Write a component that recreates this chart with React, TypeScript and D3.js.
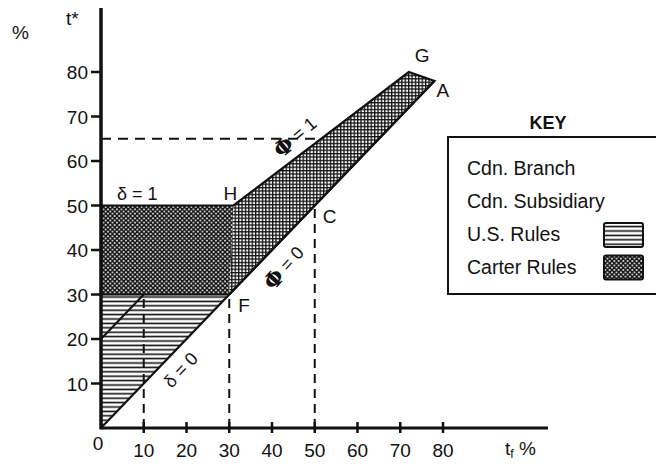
import * as d3 from "d3";

const WIDTH = 656;
const HEIGHT = 464;

// axis ticks (percent)
const X_TICKS = [10, 20, 30, 40, 50, 60, 70, 80];
const Y_TICKS = [10, 20, 30, 40, 50, 60, 70, 80];

// regions, as [t_f, t*] vertices
const US_RULES: [number, number][] = [[0, 0], [30, 30], [0, 30]];
const CARTER_LEFT: [number, number][] = [[0, 30], [0, 50], [31, 50], [30, 30]];
const CARTER_RIGHT: [number, number][] = [[30, 30], [31, 50], [72, 80], [78, 78]];
const CARTER_OUTLINE: [number, number][] = [[0, 30], [0, 50], [31, 50], [72, 80], [78, 78], [30, 30]];
const DIAGONAL: [number, number][] = [[0, 0], [78, 78]];
const SUBSIDIARY_LINE: [number, number][] = [[0, 20], [10, 30]];

// dashed guides
const DASHED_VERTICALS = [
  { x: 10, top: 30 },
  { x: 30, top: 30 },
  { x: 50, top: 50 },
];
const DASHED_LEVEL = { y: 65, from: 0, to: 51.5 };

const POINT_LABELS = [
  { label: "H", x: 31, y: 50, dx: -10, dy: -6 },
  { label: "G", x: 72, y: 80, dx: 6, dy: -10 },
  { label: "A", x: 78, y: 78, dx: 2, dy: 16 },
  { label: "F", x: 30, y: 30, dx: 9, dy: 17 },
  { label: "C", x: 50, y: 50, dx: 8, dy: 17 },
];

// rotated line labels, positioned by their centre in data units
const LINE_LABELS = [
  { sym: "δ", rest: " = 0", x: 18.7, y: 13.0, angle: -47, bold: false },
  { sym: "Φ", rest: " = 0", x: 42.8, y: 36.0, angle: -48, bold: true },
  { sym: "Φ", rest: " = 1", x: 45.4, y: 65.4, angle: -40, bold: true },
];

const LEGEND_ITEMS = ["Cdn. Branch", "Cdn. Subsidiary", "U.S. Rules", "Carter Rules"];
const LEGEND_SWATCH = [null, null, "url(#hlines)", "url(#xhatch)"];

const FONT = "'Liberation Sans', Arial, Helvetica, sans-serif";

export default function App() {
  const x = d3.scaleLinear().domain([0, 80]).range([101, 443]);
  const y = d3.scaleLinear().domain([0, 80]).range([428, 72]);
  const line = d3
    .line<[number, number]>()
    .x((d) => x(d[0]))
    .y((d) => y(d[1]));
  const poly = (pts: [number, number][]) => line(pts) + "Z";

  return (
    <svg
      width={WIDTH}
      height={HEIGHT}
      viewBox={`0 0 ${WIDTH} ${HEIGHT}`}
      style={{ position: "absolute", left: 0, top: 0, background: "#fff", fontFamily: FONT }}
    >
      <defs>
        <pattern id="hlines" width="6" height="4.4" patternUnits="userSpaceOnUse">
          <line x1="0" x2="6" y1="2.2" y2="2.2" stroke="#111" strokeWidth="1.6" />
        </pattern>
        <pattern id="xhatch" width="4.5" height="4.5" patternUnits="userSpaceOnUse">
          <rect width="4.5" height="4.5" fill="#fff" />
          <path d="M0,0 L4.5,4.5 M4.5,0 L0,4.5" stroke="#111" strokeWidth="1.5" />
        </pattern>
        <pattern id="grid" width="3.4" height="3.4" patternUnits="userSpaceOnUse">
          <rect width="3.4" height="3.4" fill="#fff" />
          <path d="M0,0.6 L3.4,0.6 M0.6,0 L0.6,3.4" stroke="#111" strokeWidth="1.4" />
        </pattern>
      </defs>

      {/* shaded regions */}
      <path d={poly(US_RULES)} fill="url(#hlines)" />
      <path d={poly(CARTER_LEFT)} fill="url(#xhatch)" />
      <path d={poly(CARTER_RIGHT)} fill="url(#grid)" />
      <path d={poly(CARTER_OUTLINE)} fill="none" stroke="#111" strokeWidth={2.2} strokeLinejoin="miter" />
      <path d={line(DIAGONAL) || ""} fill="none" stroke="#111" strokeWidth={2.2} />
      <path d={line(SUBSIDIARY_LINE) || ""} fill="none" stroke="#111" strokeWidth={2} />

      {/* dashed guides */}
      {DASHED_VERTICALS.map((d) => (
        <line
          key={`dv-${d.x}`}
          x1={x(d.x)}
          x2={x(d.x)}
          y1={y(0)}
          y2={y(d.top)}
          stroke="#111"
          strokeWidth={2}
          strokeDasharray="9 6"
        />
      ))}
      <line
        x1={x(DASHED_LEVEL.from)}
        x2={x(DASHED_LEVEL.to)}
        y1={y(DASHED_LEVEL.y)}
        y2={y(DASHED_LEVEL.y)}
        stroke="#111"
        strokeWidth={2}
        strokeDasharray="10 7"
      />

      {/* axes */}
      <line x1={x(0)} x2={548} y1={y(0)} y2={y(0)} stroke="#111" strokeWidth={3} />
      <line x1={x(0)} x2={x(0)} y1={y(0) + 1.5} y2={8} stroke="#111" strokeWidth={3.5} />
      {Y_TICKS.map((t) => (
        <g key={`y-${t}`}>
          <line x1={x(0) - 10} x2={x(0)} y1={y(t)} y2={y(t)} stroke="#111" strokeWidth={2.5} />
          <text x={88} y={y(t) + 7} textAnchor="end" fontSize={19} fill="#111">
            {t}
          </text>
        </g>
      ))}
      {X_TICKS.map((t) => (
        <g key={`x-${t}`}>
          <line x1={x(t)} x2={x(t)} y1={y(0) - 6} y2={y(0) + 5} stroke="#111" strokeWidth={2.5} />
          <text x={x(t)} y={457} textAnchor="middle" fontSize={19} fill="#111">
            {t}
          </text>
        </g>
      ))}
      <text x={98} y={450} textAnchor="middle" fontSize={19} fill="#111">0</text>
      <text x={66} y={25} fontSize={19} fill="#111">t*</text>
      <text x={12} y={39} fontSize={19} fill="#111">%</text>
      <text x={505} y={455} fontSize={19} fill="#111">
        t<tspan fontSize={12} dy={3}>f</tspan>
        <tspan dy={-3}> %</tspan>
      </text>

      {/* annotations */}
      <text x={x(0) + 16} y={200} fontSize={18} fill="#111">δ = 1</text>
      {POINT_LABELS.map((p) => (
        <text key={p.label} x={x(p.x) + p.dx} y={y(p.y) + p.dy} fontSize={19} fill="#111">
          {p.label}
        </text>
      ))}
      {LINE_LABELS.map((l, i) => (
        <text
          key={`ll-${i}`}
          transform={`translate(${x(l.x)},${y(l.y)}) rotate(${l.angle})`}
          fontSize={18}
          fill="#111"
          textAnchor="middle"
          dominantBaseline="central"
        >
          <tspan
            fontWeight={l.bold ? "bold" : "normal"}
            fontSize={l.bold ? 22 : 18}
            fontFamily={l.bold ? "'DejaVu Serif', serif" : FONT}
          >
            {l.sym}
          </tspan>
          {l.rest}
        </text>
      ))}

      {/* key */}
      <text x={548} y={129} textAnchor="middle" fontSize={18} fontWeight="bold" fill="#111">
        KEY
      </text>
      <rect x={448} y={137} width={220} height={157} fill="none" stroke="#111" strokeWidth={2} />
      {LEGEND_ITEMS.map((label, i) => (
        <g key={label}>
          <text x={467} y={175 + i * 33} fontSize={19.5} fill="#111">
            {label}
          </text>
          {LEGEND_SWATCH[i] && (
            <rect
              x={604}
              y={158 + i * 32.5}
              width={39}
              height={24}
              rx={2}
              fill={LEGEND_SWATCH[i] as string}
              stroke="#111"
              strokeWidth={2}
            />
          )}
        </g>
      ))}
    </svg>
  );
}
